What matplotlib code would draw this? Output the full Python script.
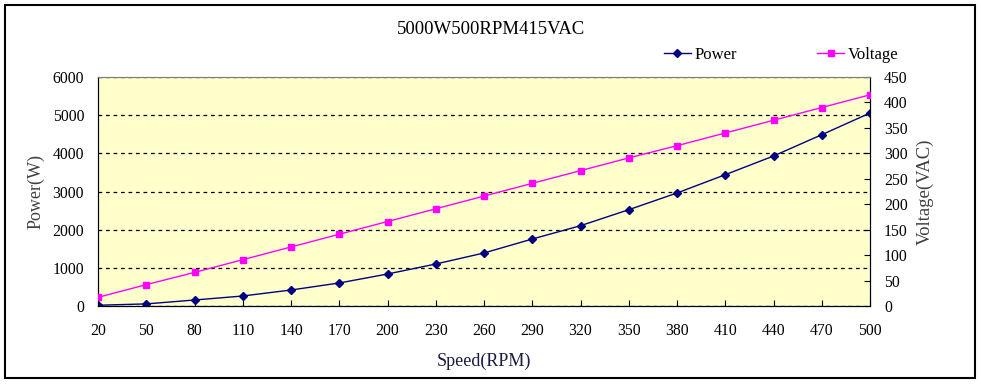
import numpy as np
import matplotlib
matplotlib.use("Agg")
import matplotlib.pyplot as plt
from matplotlib.patches import Rectangle
from matplotlib.lines import Line2D

speed = [20, 50, 80, 110, 140, 170, 200, 230, 260, 290, 320, 350, 380, 410, 440, 470, 500]
power = [20, 55, 157, 262, 419, 603, 838, 1100, 1389, 1755, 2104, 2523, 2961, 3440, 3930, 4488, 5056]
voltage = [17, 42, 66, 91, 116, 141, 166, 191, 216, 241, 266, 291, 315, 340, 365, 390, 415]

plt.rcParams['font.family'] = ['Liberation Serif', 'DejaVu Serif']

fig = plt.figure(figsize=(9.81, 3.84), dpi=100)
fig.patches.append(Rectangle((5/981, 6/384), 970/981, 373/384, transform=fig.transFigure,
                             fill=False, edgecolor='black', linewidth=1.5))

ax = fig.add_axes([98/981, 1 - 306/384, 772/981, 229/384])
ax.set_facecolor('#FFFFCC')
ax.plot(speed, power, color='#000080', marker='D', markersize=4.5, linewidth=1, zorder=3)
ax.set_xlim(20, 500)
ax.set_ylim(0, 6000)
ax.set_xticks(speed)
ax.set_yticks(np.arange(0, 6001, 1000))
ax.yaxis.grid(True, color='black', linestyle=(0, (3, 3)), linewidth=0.9)
ax.tick_params(axis='x', direction='in', length=4, labelsize=11.3, pad=12)
ax.tick_params(axis='y', length=0, labelsize=11.3, pad=10)
ax.spines['top'].set_color('#808080')
ax.set_xlabel("Speed(RPM)", fontsize=13, color='#1a1a40', labelpad=10)
ax.set_ylabel("Power(W)", fontsize=13, color='#404040', labelpad=6)

ax2 = ax.twinx()
ax2.plot(speed, voltage, color='#FF00FF', marker='s', markersize=5, linewidth=1, zorder=3)
ax2.set_ylim(0, 450)
ax2.set_yticks(np.arange(0, 451, 50))
ax2.tick_params(axis='y', direction='in', length=4, labelsize=11.3, pad=10)
ax2.spines['top'].set_color('#808080')
ax2.set_ylabel("Voltage(VAC)", fontsize=13.5, color='#404040', labelpad=6)

fig.text(0.5, 1 - 29/384, "5000W500RPM415VAC", ha='center', va='center', fontsize=13.5)

handles = [Line2D([], [], color='#000080', marker='D', markersize=4.5, linewidth=1),
           Line2D([], [], color='#FF00FF', marker='s', markersize=5, linewidth=1)]
fig.legend(handles, ["Power", "Voltage"], loc='center left', bbox_to_anchor=(664/981, 1 - 55/384),
           ncol=2, frameon=False, fontsize=12, handlelength=1.6, columnspacing=4.8,
           handletextpad=0.25, borderpad=0, borderaxespad=0)

fig.savefig("out.png", dpi=100)
